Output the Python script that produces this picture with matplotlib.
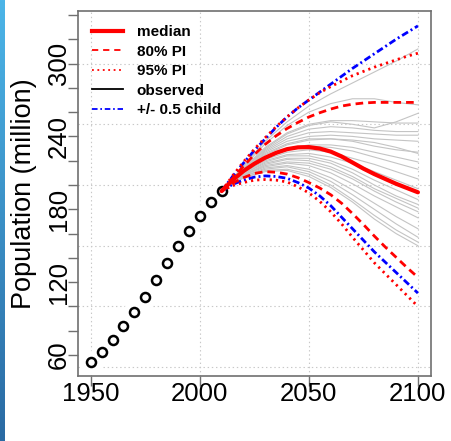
import numpy as np
import matplotlib
matplotlib.use("Agg")
import matplotlib.pyplot as plt
from matplotlib.lines import Line2D
from matplotlib.colors import LinearSegmentedColormap

plt.rcParams['font.family'] = ['Liberation Sans', 'DejaVu Sans']
plt.rcParams['lines.scale_dashes'] = False

# ---------------- data ----------------
obs_years = [1950, 1955, 1960, 1965, 1970, 1975, 1980, 1985, 1990, 1995, 2000, 2005, 2010]
obs_pop = [53.9, 62.5, 72.2, 84.2, 95.5, 107.9, 121.6, 135.9, 149.4, 162.0, 174.2, 185.9, 195.0]

proj_years = [2010, 2015, 2020, 2025, 2030, 2035, 2040, 2045, 2050, 2055,
              2060, 2065, 2070, 2075, 2080, 2085, 2090, 2095, 2100]
median = [195.0, 204.0, 211.5, 217.5, 222.5, 226.5, 229.5, 231.0, 231.2, 230.0,
          227.5, 223.5, 218.5, 213.5, 209.0, 205.0, 201.0, 197.5, 194.0]
pi80_up = [195.0, 205.5, 215.5, 225.0, 233.5, 240.5, 246.5, 251.5, 256.0, 259.5,
           262.5, 265.0, 266.5, 267.5, 268.0, 268.0, 268.0, 268.0, 268.0]
pi80_lo = [195.0, 201.5, 206.0, 209.5, 211.0, 210.5, 209.0, 206.0, 202.0, 197.5,
           192.0, 185.0, 176.5, 167.5, 158.0, 149.0, 140.5, 132.0, 124.0]
pi95_up = [195.0, 207.5, 219.0, 229.5, 239.0, 248.0, 256.0, 263.5, 270.0, 276.0,
           281.0, 285.5, 290.0, 293.5, 297.0, 300.0, 303.0, 306.0, 308.5]
pi95_lo = [195.0, 199.5, 202.0, 204.0, 204.5, 204.0, 202.5, 198.5, 193.5, 186.5,
           178.0, 168.0, 157.0, 146.5, 136.0, 127.0, 118.0, 109.0, 100.0]
child_up = [195.0, 207.0, 218.0, 228.5, 238.0, 247.5, 256.0, 263.5, 270.0, 276.5,
            283.0, 289.5, 296.0, 302.0, 308.0, 314.0, 320.0, 325.5, 331.0]
child_lo = [195.0, 200.5, 204.0, 206.5, 207.5, 207.0, 205.5, 202.0, 197.5, 191.0,
            183.0, 173.5, 164.0, 154.5, 145.0, 136.5, 128.0, 119.5, 111.0]

traj_years = [2010, 2020, 2030, 2040, 2050, 2060, 2070, 2080, 2090, 2100]
trajectories = [
    [195, 216, 236, 252, 265, 275, 284, 293, 302, 312],
    [195, 215, 234, 249, 260, 267, 271, 271, 268, 266],
    [195, 213, 230, 242, 249, 252, 250, 247, 252, 259],
    [195, 214, 231, 243, 250, 253, 253, 252, 251, 251],
    [195, 213, 229, 240, 246, 248, 247, 245, 244, 244],
    [195, 213, 228, 238, 243, 244, 243, 242, 241, 241],
    [195, 212, 227, 236, 240, 241, 240, 238, 237, 236],
    [195, 212, 226, 234, 238, 238, 236, 232, 229, 227],
    [195, 212, 225, 233, 237, 238, 237, 235, 231, 226],
    [195, 211, 223, 230, 233, 233, 231, 227, 223, 219],
    [195, 211, 222, 229, 232, 231, 228, 223, 218, 213],
    [195, 210, 221, 227, 229, 227, 222, 217, 211, 205],
    [195, 210, 220, 225, 226, 223, 218, 211, 204, 197],
    [195, 209, 219, 224, 224, 220, 213, 204, 196, 188],
    [195, 209, 218, 222, 222, 218, 210, 200, 191, 184],
    [195, 208, 217, 221, 220, 215, 207, 197, 189, 181],
    [195, 208, 216, 219, 218, 213, 205, 195, 186, 178],
    [195, 208, 215, 218, 216, 210, 201, 191, 182, 173],
    [195, 207, 214, 216, 213, 206, 196, 185, 174, 164],
    [195, 207, 213, 215, 211, 203, 192, 180, 168, 157],
    [195, 206, 212, 213, 209, 200, 188, 175, 163, 153],
    [195, 206, 211, 212, 207, 198, 186, 172, 160, 150],
]

x_ticks = [1950, 2000, 2050, 2100]
y_ticks = list(range(60, 341, 20))
y_labeled = [60, 120, 180, 240, 300]
y_grid = [50, 100, 150, 200, 250, 300]
legend_labels = ['median', '80% PI', '95% PI', 'observed', '+/- 0.5 child']

# ---------------- figure ----------------
fig = plt.figure(figsize=(4.52, 4.41), dpi=100)

# blue slide strip on the left edge
strip = fig.add_axes([0, 0, 4.5 / 452, 1])
grad = np.linspace(0, 1, 256).reshape(-1, 1)
cmap = LinearSegmentedColormap.from_list('strip', ['#4cb5e8', '#2a6aa3'])
strip.imshow(grad, aspect='auto', cmap=cmap)
strip.axis('off')

ax = fig.add_axes([77.7 / 452, 1 - 375.7 / 441, (431 - 77.7) / 452, (375.7 - 10.7) / 441])
ax.set_xlim(1944, 2106)
ax.set_ylim(43, 343.5)

grid_kw = dict(color='#c8c8c8', lw=0.8, ls=(0, (1, 2)), zorder=0)
for gx in x_ticks:
    ax.axvline(gx, **grid_kw)
for gy in y_grid:
    ax.axhline(gy, **grid_kw)

for tr in trajectories:
    ax.plot(traj_years, tr, color='#c4c4c4', lw=0.8, zorder=1)

# observed: line with gaps around the points (R type "b")
ax.plot(obs_years, obs_pop, color='black', lw=1.0, zorder=2)
ax.plot(obs_years, obs_pop, ls='none', marker='o', ms=16, mfc='white', mec='none', zorder=3)
ax.plot(obs_years, obs_pop, ls='none', marker='o', ms=6.5, mfc='white', mec='black', mew=1.8, zorder=4)

dashed = (0, (5.5, 3.6))
dotted = (0, (1.6, 2.9))
dashdot = (0, (5.0, 2.2, 1.4, 2.2))

ax.plot(proj_years, child_up, color='#0000ff', lw=2.0, ls=dashdot, zorder=5)
ax.plot(proj_years, child_lo, color='#0000ff', lw=2.0, ls=dashdot, zorder=5)
ax.plot(proj_years, pi95_up, color='#ff0000', lw=2.0, ls=dotted, zorder=6)
ax.plot(proj_years, pi95_lo, color='#ff0000', lw=2.0, ls=dotted, zorder=6)
ax.plot(proj_years, pi80_up, color='#ff0000', lw=2.0, ls=dashed, zorder=6)
ax.plot(proj_years, pi80_lo, color='#ff0000', lw=2.0, ls=dashed, zorder=6)
ax.plot(proj_years, median, color='#ff0000', lw=3.0, zorder=7, solid_capstyle='round')

# axes styling
for sp in ax.spines.values():
    sp.set_color('#707070')
    sp.set_linewidth(1.2)
ax.set_xticks(x_ticks)
ax.set_xticklabels([str(v) for v in x_ticks])
ax.set_yticks(y_ticks)
ax.set_yticklabels([str(v) if v in y_labeled else '' for v in y_ticks])
ax.tick_params(axis='both', length=7.2, width=1.0, color='#707070', labelsize=18.5)
ax.tick_params(axis='x', pad=-2.7)
ax.tick_params(axis='y', pad=-2.5, labelrotation=90)
for lab in ax.get_yticklabels():
    lab.set_va('center')

ax.set_ylabel('Population (million)', fontsize=19.5)
ax.yaxis.set_label_coords((37 - 77.7) / 353.3, 0.5)

handles = [
    Line2D([], [], color='#ff0000', lw=3.0),
    Line2D([], [], color='#ff0000', lw=1.3, ls=(0, (4.5, 3.5))),
    Line2D([], [], color='#ff0000', lw=1.3, ls=(0, (1.3, 2.6))),
    Line2D([], [], color='black', lw=1.3),
    Line2D([], [], color='#0000ff', lw=1.3, ls=(0, (4.0, 2.0, 1.2, 2.0))),
]
leg = ax.legend(handles, legend_labels, loc='upper left', frameon=False,
                bbox_to_anchor=(14 / 353.3, 1 - 14.5 / 365), borderaxespad=0, borderpad=0,
                prop={'weight': 'bold', 'size': 11}, handlelength=2.05,
                handletextpad=0.9, labelspacing=0.36)

fig.savefig('out.png', dpi=100)
